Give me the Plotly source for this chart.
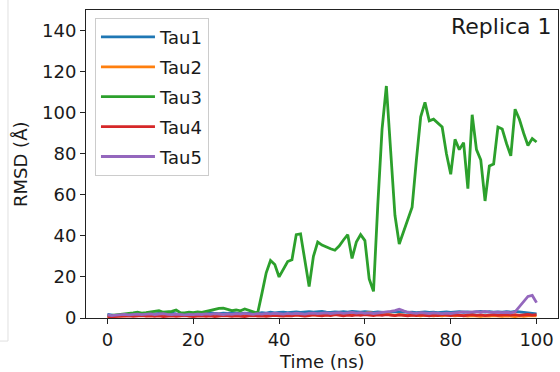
import plotly.graph_objects as go

time_ns = list(range(0, 101))

tau1 = [1.8,1.5,1.2,1.4,1.6,1.8,2.0,1.7,1.9,2.1,1.8,
        2.0,2.2,1.9,2.1,2.3,2.0,1.8,2.2,2.4,2.1,
        2.3,2.0,2.2,2.5,2.3,2.1,2.4,2.2,2.6,2.3,
        2.1,2.4,2.2,2.5,2.3,2.6,2.4,2.8,2.5,2.7,
        2.9,2.6,2.8,3.0,2.7,2.9,3.1,2.8,3.0,3.2,
        2.9,2.7,3.0,2.8,3.1,2.9,3.2,3.0,2.8,3.1,
        2.9,2.7,3.0,2.8,2.6,2.9,3.1,2.8,3.0,2.7,
        2.9,2.6,2.8,3.0,2.7,2.9,2.6,2.8,3.0,2.7,
        2.9,3.1,2.8,3.0,2.7,2.9,3.2,2.9,3.1,2.8,
        3.0,2.8,3.1,2.9,3.2,3.0,2.8,2.6,2.3,2.0]

tau2 = [0.5,0.8,1.0,1.2,1.0,1.3,1.5,1.2,1.4,1.1,1.3,
        1.5,1.2,1.4,1.6,1.3,1.5,1.2,1.4,1.1,1.3,
        1.6,1.4,1.8,1.5,1.7,1.9,1.6,1.8,1.5,1.7,
        1.9,1.6,1.4,1.7,1.5,1.3,1.6,1.4,1.2,1.5,
        1.3,1.6,1.4,1.7,1.5,1.2,1.4,1.6,1.3,1.5,
        1.7,1.4,1.6,1.8,2.0,1.7,1.9,2.2,2.0,2.4,
        2.6,2.2,1.9,1.6,1.8,1.5,1.3,1.6,1.4,1.2,
        1.5,1.3,1.1,1.4,1.2,1.0,1.3,1.1,1.4,1.2,
        1.0,1.3,1.1,0.9,1.2,1.0,0.8,1.1,0.9,1.2,
        1.0,0.8,1.1,0.9,0.7,1.0,0.8,1.1,0.9,1.0]

tau3 = [1.0,1.2,1.5,1.8,2.0,2.2,2.5,2.8,2.4,2.6,2.9,
        3.2,3.6,2.8,3.0,3.2,3.9,2.6,2.5,2.8,2.6,
        3.0,2.7,3.2,3.5,4.2,4.7,4.8,4.3,3.6,3.9,
        3.5,4.4,3.6,3.0,2.3,12.0,22.0,28.0,26.0,20.0,
        23.6,27.5,28.4,40.6,41.0,28.0,15.3,30.0,37.0,35.5,
        34.4,33.7,33.0,35.0,38.0,40.6,29.0,37.0,40.6,37.7,
        19.0,13.0,55.0,92.0,113.0,80.0,50.0,36.0,42.0,47.0,
        54.0,77.0,98.0,105.0,96.0,96.8,95.0,93.0,80.0,70.0,
        87.0,82.0,85.4,63.0,99.0,82.0,77.0,57.0,74.0,75.0,
        93.0,92.0,85.0,79.0,101.7,96.8,90.0,84.0,87.4,85.7]

tau4 = [0.5,0.6,0.8,0.7,0.9,1.1,0.8,1.0,1.2,0.9,1.1,
        0.8,1.0,0.7,0.9,1.1,0.8,1.0,1.2,0.9,0.7,
        0.9,1.1,0.8,1.0,0.7,0.9,1.2,1.0,0.8,1.1,
        0.9,0.7,1.0,1.2,0.9,1.1,0.8,1.0,1.3,1.1,
        0.9,1.2,1.0,1.4,1.1,0.9,1.2,1.5,1.3,1.1,
        1.4,1.2,1.6,1.3,1.1,1.4,1.2,1.5,1.3,1.6,
        1.4,1.2,1.5,1.3,1.6,1.4,1.2,1.5,1.3,1.1,
        1.4,1.2,1.5,1.3,1.1,1.4,1.2,1.6,1.4,1.2,
        1.5,1.3,1.1,1.4,1.6,1.3,1.5,1.2,1.4,1.6,
        1.3,1.5,1.7,1.4,1.6,1.3,1.5,1.7,1.4,1.6]

tau5 = [1.5,1.2,1.4,1.6,1.8,1.5,1.7,1.9,1.6,1.8,2.0,
        1.7,1.9,2.1,1.8,1.6,1.9,1.7,1.5,1.8,1.6,
        1.9,1.7,2.0,1.8,2.1,1.9,1.7,2.0,1.8,2.1,
        1.9,2.2,2.0,1.8,2.1,1.9,2.2,2.0,2.3,2.1,
        1.9,2.2,2.0,2.3,2.1,1.9,2.2,2.4,2.1,2.3,
        2.5,2.2,2.4,2.6,2.3,2.5,2.7,2.4,2.6,2.3,
        2.5,2.2,2.4,2.6,2.8,3.2,3.6,4.3,3.5,2.8,
        2.5,2.3,2.6,2.4,2.2,2.5,2.3,2.1,2.4,2.2,
        2.5,2.8,3.0,2.7,2.9,3.1,2.8,3.2,2.9,2.7,
        2.9,2.6,2.8,2.5,3.0,5.5,8.5,10.5,11.0,7.5]

series_names = ["Tau1", "Tau2", "Tau3", "Tau4", "Tau5"]
series_values = [tau1, tau2, tau3, tau4, tau5]
colors = ["#1f77b4", "#ff7f0e", "#2ca02c", "#d62728", "#9467bd"]

x_ticks = [0, 20, 40, 60, 80, 100]
y_ticks = [0, 20, 40, 60, 80, 100, 120, 140]

FONT = "DejaVu Sans"

fig = go.Figure()
for name, vals, col in zip(series_names, series_values, colors):
    fig.add_trace(go.Scatter(
        x=time_ns, y=vals, mode="lines", name=name,
        legendgroup=name,
        line=dict(color=col, width=2.8),
    ))

axis_common = dict(
    showline=True, linecolor="#222222", linewidth=1, mirror=True,
    ticks="outside", ticklen=5, tickwidth=1, tickcolor="#222222",
    showgrid=False, zeroline=False,
    tickfont=dict(family=FONT, size=18, color="#1a1a1a"),
)

fig.update_layout(
    width=560, height=372,
    margin=dict(l=86, r=2, t=10, b=54),
    paper_bgcolor="white", plot_bgcolor="white",
    font=dict(family=FONT, size=18, color="#1a1a1a"),
    xaxis=dict(range=[-5, 105], tickvals=x_ticks, **axis_common),
    yaxis=dict(range=[0, 150], tickvals=y_ticks, **axis_common),
    legend=dict(
        x=0.019, y=0.975, xanchor="left", yanchor="top",
        bordercolor="#cccccc", borderwidth=1,
        bgcolor="rgba(255,255,255,0.8)",
        font=dict(family=FONT, size=18, color="#1a1a1a"),
        tracegroupgap=3.5, traceorder="grouped",
        itemwidth=54,
    ),
    showlegend=True,
    annotations=[
        dict(text="Replica 1", xref="paper", yref="paper", x=1, y=0.946,
             xanchor="right", yanchor="middle", xshift=-4, showarrow=False,
             font=dict(family=FONT, size=22, color="#1a1a1a")),
        dict(text="Time (ns)", xref="paper", yref="paper", x=0.5, y=-0.14,
             xanchor="center", yanchor="middle", showarrow=False,
             font=dict(family=FONT, size=18, color="#1a1a1a")),
        dict(text="RMSD (Å)", xref="paper", yref="paper", x=-0.14, y=0.5,
             xanchor="center", yanchor="middle", textangle=-90, showarrow=False,
             font=dict(family=FONT, size=18, color="#1a1a1a")),
    ],
    shapes=[
        dict(type="line", xref="paper", yref="paper", x0=-0.1653, x1=-0.1653,
             y0=-0.0748, y1=1.04, line=dict(color="#e0e0e0", width=1)),
        dict(type="line", xref="paper", yref="paper", x0=-0.19, x1=-0.1653,
             y0=-0.0748, y1=-0.0748, line=dict(color="#e0e0e0", width=1)),
    ],
)

fig.write_html("out.html")
